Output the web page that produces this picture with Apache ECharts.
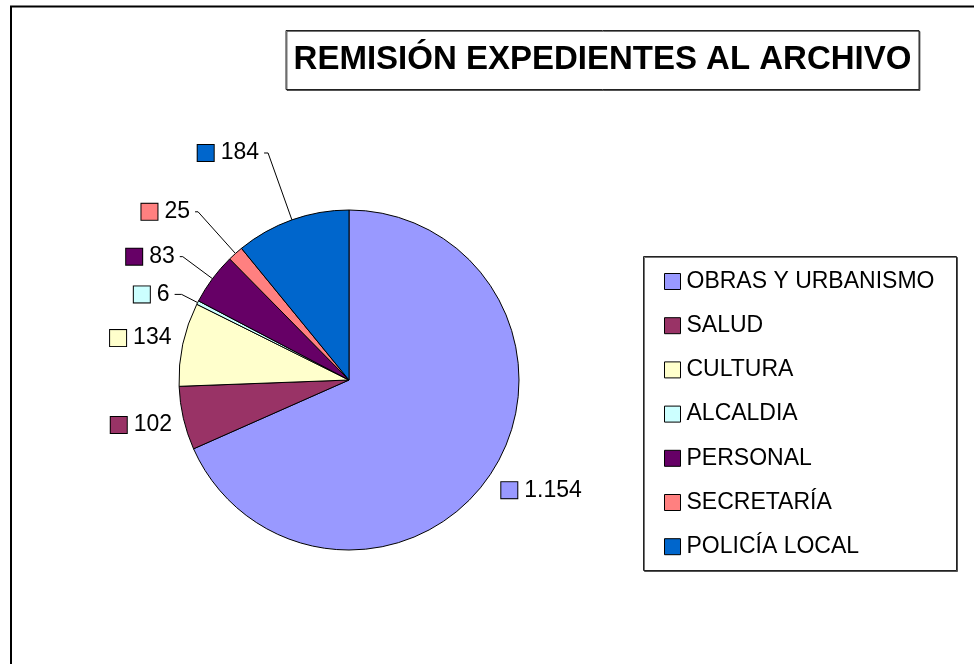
<!DOCTYPE html>
<html>
<head>
<meta charset="utf-8">
<script src="https://cdn.jsdelivr.net/npm/echarts@6/dist/echarts.min.js"></script>
<style>
html,body{margin:0;padding:0;background:#fff;}
#chart{width:974px;height:664px;}
</style>
</head>
<body>
<div id="chart"></div>
<script>
const titleText = 'REMISIÓN EXPEDIENTES AL ARCHIVO';
const categories = ['OBRAS Y URBANISMO', 'SALUD', 'CULTURA', 'ALCALDIA', 'PERSONAL', 'SECRETARÍA', 'POLICÍA LOCAL'];
const values = [1154, 102, 134, 6, 83, 25, 184];
const colors = ['#9999FF', '#993366', '#FFFFCC', '#CCFFFF', '#660066', '#FF8080', '#0066CC'];

// per-slice label placement (library radial label line: length / length2)
const labelLen = [32, 30, 29, 18, 37, 56, 71];
const labelLen2 = [-22, -23, -22, 7, 3, 3, 4];
const showLine = [false, false, false, true, true, true, true];

const FONT = '"Liberation Sans", Arial, sans-serif';

function fmt(v) {
  return String(v).replace(/\B(?=(\d{3})+(?!\d))/g, '.');
}

const rich = { t: { fontSize: 23, fontFamily: FONT, color: '#000', padding: [0, 0, 0, 7] } };
colors.forEach((c, i) => {
  rich['m' + i] = { width: 16, height: 16, backgroundColor: c, borderColor: '#000', borderWidth: 1 };
});

const data = categories.map((name, i) => ({
  name: name,
  value: values[i],
  itemStyle: { color: colors[i] },
  labelLine: { show: showLine[i], length: labelLen[i], length2: labelLen2[i] }
}));

const chart = echarts.init(document.getElementById('chart'), null, { renderer: 'canvas' });
chart.setOption({
  animation: false,
  backgroundColor: '#fff',
  title: {
    text: titleText,
    left: 594.5,
    top: 30,
    textAlign: 'center',
    padding: [13, 8, 13, 8],
    borderColor: '#222',
    borderWidth: 1,
    backgroundColor: '#fff',
    shadowColor: 'rgba(0,0,0,0.55)',
    shadowOffsetX: 1,
    shadowOffsetY: 1,
    shadowBlur: 0,
    textStyle: { fontFamily: FONT, fontSize: 33, fontWeight: 'bold', color: '#000', lineHeight: 34 }
  },
  graphic: [
    {
      type: 'rect', z: -10,
      shape: { x: 11, y: 6.5, width: 1000, height: 700 },
      style: { fill: '#fff', stroke: '#000', lineWidth: 2 }
    },
    {
      type: 'rect', z: -5,
      shape: { x: 643.5, y: 256.5, width: 313, height: 314 },
      style: { fill: '#fff', stroke: '#222', lineWidth: 1, shadowColor: 'rgba(0,0,0,0.55)', shadowOffsetX: 1, shadowOffsetY: 1 }
    }
  ],
  legend: {
    orient: 'vertical',
    left: 664,
    top: 270,
    padding: 0,
    itemWidth: 16,
    itemHeight: 16,
    itemGap: 21.2,
    icon: 'rect',
    selectedMode: false,
    data: categories,
    itemStyle: { borderColor: '#000', borderWidth: 1 },
    textStyle: { fontFamily: FONT, fontSize: 23, color: '#000', lineHeight: 22, padding: [0, 0, 0, 1] }
  },
  series: [{
    type: 'pie',
    center: [349, 380],
    radius: 170,
    startAngle: 90,
    clockwise: true,
    avoidLabelOverlap: false,
    silent: true,
    emphasis: { disabled: true },
    itemStyle: { borderColor: '#000', borderWidth: 1 },
    label: {
      show: true,
      position: 'outside',
      distanceToLabelLine: 5,
      formatter: p => '{m' + p.dataIndex + '|}{t|' + fmt(p.value) + '}',
      rich: rich
    },
    labelLine: { lineStyle: { color: '#000', width: 1 }, smooth: false },
    data: data
  }]
});
</script>
</body>
</html>
